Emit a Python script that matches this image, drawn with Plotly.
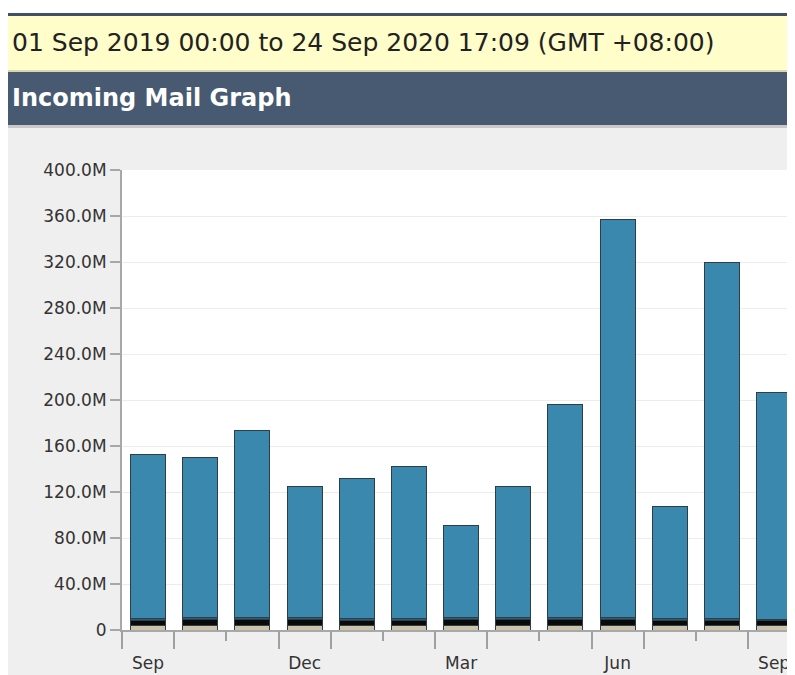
import plotly.graph_objects as go

# ---- data (values in millions) ----
months = ["Sep", "Oct", "Nov", "Dec", "Jan", "Feb", "Mar", "Apr", "May", "Jun", "Jul", "Aug", "Sep"]
other_mail = [3.5, 3.5, 3.5, 3.5, 3.5, 3.5, 3.5, 3.5, 3.5, 3.5, 3.5, 3.5, 3.5]
spam_mail = [5.0, 6.0, 5.5, 5.5, 5.0, 5.0, 5.5, 5.5, 5.5, 6.0, 5.0, 5.0, 4.5]
virus_mail = [1.5, 1.5, 1.5, 1.5, 1.5, 1.5, 1.5, 1.5, 1.5, 1.5, 1.5, 1.5, 1.5]
clean_mail = [143, 139, 163, 114, 122, 132, 80, 114, 186, 346, 97, 310, 197]

y_tickvals = [0, 40, 80, 120, 160, 200, 240, 280, 320, 360, 400]
y_ticktext = ["0", "40.0M", "80.0M", "120.0M", "160.0M", "200.0M", "240.0M",
              "280.0M", "320.0M", "360.0M", "400.0M"]
label_months = [0, 3, 6, 9, 12]
long_ticks = [-0.5, 0.5, 2.5, 3.5, 5.5, 6.5, 8.5, 9.5, 11.5]
short_ticks = [1.5, 4.5, 7.5, 10.5]

idx = list(range(len(months)))

# ---- geometry (page has an 8px body margin; figure sits at (8, 8)) ----
OFF = 8
W, H = 795 - OFF, 675 - OFF
L, R, T, B = 122 - OFF, 0, 170 - OFF, 675 - 630
PW, PH = W - L - R, H - T - B


def px(X):  # page pixel x -> paper
    return (X - OFF - L) / PW


def py(Y):  # page pixel y -> paper
    return (H - B - (Y - OFF)) / PH


fig = go.Figure()
series = [
    ("Other", other_mail, "#cdc3ab"),
    ("Spam", spam_mail, "#0a0a0a"),
    ("Virus", virus_mail, "#2b5e78"),
    ("Clean", clean_mail, "#3a88ae"),
]
for name, vals, col in series:
    fig.add_trace(go.Bar(
        x=idx, y=vals, name=name, width=0.67,
        marker=dict(color=col, line=dict(color="#2e3d47", width=1)),
        showlegend=False,
    ))

# invisible helper trace so the tick-mark axis is drawn
fig.add_trace(go.Scatter(x=idx, y=other_mail, xaxis="x2", mode="lines",
                         line=dict(width=0, color="rgba(0,0,0,0)"),
                         hoverinfo="skip", showlegend=False))

shapes = [
    dict(type="rect", xref="paper", yref="paper", x0=px(8), x1=px(800), y0=py(8), y1=py(13),
         fillcolor="white", line_width=0),
    dict(type="rect", xref="paper", yref="paper", x0=px(8), x1=px(800), y0=py(13), y1=py(16),
         fillcolor="#3e4f66", line_width=0),
    dict(type="rect", xref="paper", yref="paper", x0=px(8), x1=px(800), y0=py(16), y1=py(70),
         fillcolor="#fffdc9", line_width=0),
    dict(type="rect", xref="paper", yref="paper", x0=px(8), x1=px(800), y0=py(70), y1=py(72),
         fillcolor="#d9d7b0", line_width=0),
    dict(type="rect", xref="paper", yref="paper", x0=px(8), x1=px(800), y0=py(72), y1=py(125),
         fillcolor="#475a72", line_width=0),
    dict(type="rect", xref="paper", yref="paper", x0=px(8), x1=px(800), y0=py(125), y1=py(128),
         fillcolor="#c8c8c8", line_width=0),
]

annotations = [
    dict(text="01 Sep 2019 00:00 to 24 Sep 2020 17:09 (GMT +08:00)", xref="paper", yref="paper",
         x=px(10), y=py(43), xanchor="left", yanchor="middle", showarrow=False,
         font=dict(family="DejaVu Sans", size=25, color="#222222")),
    dict(text="<b>Incoming Mail Graph</b>", xref="paper", yref="paper",
         x=px(10), y=py(98), xanchor="left", yanchor="middle", showarrow=False,
         font=dict(family="DejaVu Sans", size=24, color="white")),
]

fig.update_layout(
    width=W, height=H,
    margin=dict(l=L, r=R, t=T, b=B, pad=0),
    barmode="stack",
    paper_bgcolor="#efefef",
    plot_bgcolor="white",
    shapes=shapes,
    annotations=annotations,
    font=dict(family="DejaVu Sans", size=17, color="#333333"),
    xaxis=dict(
        range=[-0.5, 12.4], tickmode="array", tickvals=label_months,
        ticktext=[months[i] for i in label_months], ticks="", ticklabelstandoff=17,
        showgrid=False, zeroline=False, showline=True, linecolor="#a8a8a8", linewidth=2,
        tickfont=dict(size=17, color="#333333"), automargin=False,
    ),
    xaxis2=dict(
        overlaying="x", matches="x", side="bottom", anchor="y",
        tickmode="array", tickvals=long_ticks, ticktext=[""] * len(long_ticks),
        ticks="outside", ticklen=18, tickwidth=2, tickcolor="#a0a0a0",
        minor=dict(tickmode="array", tickvals=short_ticks, ticks="outside", ticklen=10,
                   tickwidth=2, tickcolor="#a0a0a0", showgrid=False),
        showgrid=False, zeroline=False, showline=False, automargin=False,
    ),
    yaxis=dict(
        range=[0, 400], tickmode="array", tickvals=y_tickvals, ticktext=y_ticktext,
        ticks="outside", ticklen=10, tickwidth=2, tickcolor="#a8a8a8",
        showline=True, linecolor="#a8a8a8", linewidth=2,
        gridcolor="#ececec", gridwidth=1, zeroline=False,
        tickfont=dict(size=17, color="#333333"), automargin=False,
    ),
)

fig.write_html("out.html")
